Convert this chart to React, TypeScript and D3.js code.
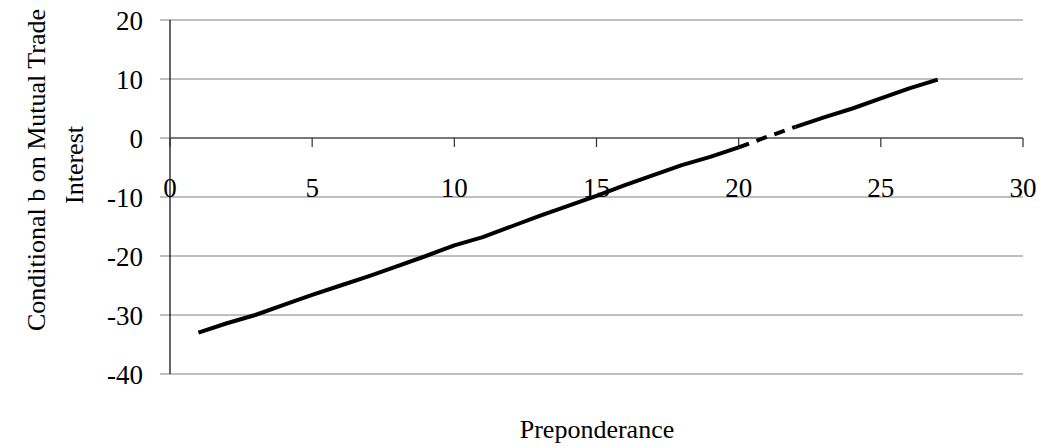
import React from "react";
import * as d3 from "d3";

const preponderance = [1, 2, 3, 4, 5, 6, 7, 8, 9, 10, 11, 12, 13, 14, 15, 16, 17, 18, 19, 20, 21, 22, 23, 24, 25, 26, 27];
const conditionalB = [-33.0, -31.4, -30.0, -28.3, -26.6, -25.0, -23.4, -21.7, -20.0, -18.2, -16.8, -15.0, -13.2, -11.5, -9.8, -8.0, -6.3, -4.6, -3.2, -1.6, 0.2, 1.9, 3.5, 5.0, 6.7, 8.4, 9.9];
const significant = [true, true, true, true, true, true, true, true, true, true, true, true, true, true, true, true, true, true, true, true, false, true, true, true, true, true, true];
const xTicks = [0, 5, 10, 15, 20, 25, 30];
const yTicks = [20, 10, 0, -10, -20, -30, -40];
const yTitleLines = ["Conditional b on Mutual Trade", "Interest"];
const xTitle = "Preponderance";

const W = 1044;
const H = 448;
const FONT = "'Liberation Serif', 'Times New Roman', serif";

export default function App() {
  const x = d3.scaleLinear().domain([0, 30]).range([170, 1023]);
  const y = d3.scaleLinear().domain([-40, 20]).range([374, 20]);

  const pts = preponderance.map((p, i) => ({ p, b: conditionalB[i], sig: significant[i] }));
  type Seg = { dashed: boolean; pts: { p: number; b: number }[] };
  const groups: Seg[] = [];
  for (let i = 0; i < pts.length - 1; i++) {
    const dashed = !(pts[i].sig && pts[i + 1].sig);
    const last = groups[groups.length - 1];
    if (last && last.dashed === dashed) {
      last.pts.push(pts[i + 1]);
    } else {
      groups.push({ dashed, pts: [pts[i], pts[i + 1]] });
    }
  }
  const line = d3
    .line<{ p: number; b: number }>()
    .x((d) => x(d.p))
    .y((d) => y(d.b));

  const y0 = y(0);

  return (
    <svg width={W} height={H} style={{ position: "absolute", left: 0, top: 0, background: "#fff" }}>
      <rect x={0} y={0} width={W} height={H} fill="#fff" />
      {yTicks.map((t) => (
        <line key={"g" + t} x1={160} x2={x(30)} y1={y(t)} y2={y(t)} stroke="#808080" strokeWidth={1.2} />
      ))}
      <line x1={x(0)} x2={x(0)} y1={y(20)} y2={y(-40)} stroke="#000" strokeWidth={1.2} />
      <line x1={x(0)} x2={x(30)} y1={y0} y2={y0} stroke="#606060" strokeWidth={1.4} />
      {xTicks.map((t) => (
        <line key={"xt" + t} x1={x(t)} x2={x(t)} y1={y0} y2={y0 + 9} stroke="#303030" strokeWidth={1.2} />
      ))}
      {yTicks.map((t) => (
        <text key={"yl" + t} x={143} y={y(t) + 10} textAnchor="end" fontFamily={FONT} fontSize={27} fill="#000">
          {String(t)}
        </text>
      ))}
      {xTicks.map((t) => (
        <text key={"xl" + t} x={x(t)} y={197} textAnchor="middle" fontFamily={FONT} fontSize={27} fill="#000">
          {String(t)}
        </text>
      ))}
      {groups.map((g, i) => (
        <path
          key={"s" + i}
          d={line(g.pts) || ""}
          fill="none"
          stroke="#000"
          strokeWidth={4}
          strokeLinecap="butt"
          strokeLinejoin="round"
          strokeDasharray={g.dashed ? "11,8" : undefined}
        />
      ))}
      <text
        transform={`translate(45,170) rotate(-90)`}
        textAnchor="middle"
        fontFamily={FONT}
        fontSize={26}
        fill="#000"
      >
        {yTitleLines[0]}
      </text>
      <text
        transform={`translate(83,165) rotate(-90)`}
        textAnchor="middle"
        fontFamily={FONT}
        fontSize={26}
        fill="#000"
      >
        {yTitleLines[1]}
      </text>
      <text x={597} y={438} textAnchor="middle" fontFamily={FONT} fontSize={26} fill="#000">
        {xTitle}
      </text>
    </svg>
  );
}
